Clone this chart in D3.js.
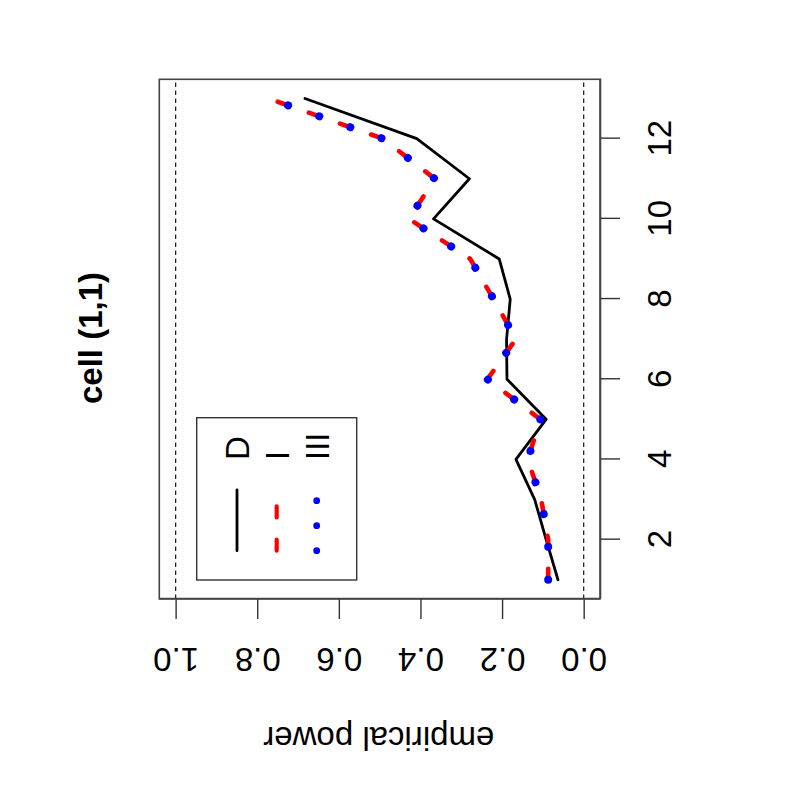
<!DOCTYPE html>
<html>
<head>
<meta charset="utf-8">
<script src="https://d3js.org/d3.v7.min.js"></script>
<style>
body { margin:0; background:white; }
svg text { font-family: "Liberation Sans", Arial, Helvetica, sans-serif; }
</style>
</head>
<body>
<svg id="graph1"></svg>
<script>

// data
var indexValues = [1,2,3,4,5,6,7,8,9,10,11,12,13];
var powerD   = [0.063,0.092,0.120,0.166,0.092,0.188,0.189,0.180,0.207,0.368,0.280,0.409,0.683];
var powerI   = [0.087,0.087,0.104,0.137,0.106,0.236,0.166,0.221,0.278,0.428,0.365,0.492,0.772];
var powerIII = [0.087,0.087,0.104,0.137,0.106,0.236,0.166,0.221,0.278,0.428,0.365,0.492,0.772];
var xTicks = [2,4,6,8,10,12];
var yTicks = [0,0.2,0.4,0.6,0.8,1];
var yTickLabels = ["0.0","0.2","0.4","0.6","0.8","1.0"];
var legendLabels = ["D","I","III"];
var refLines = [0,1];

// line styles (black solid, red dashed, blue dotted)
var lineStyles = [
    {color:"black", width:2.8, dash:null, legendDash:null},
    {color:"#ff0000", width:4.6, dash:"11,22", legendDash:"11,22.3", legendWidth:4.2},
    {color:"#0000ff", width:8, dash:"0.01,32.99", legendDash:"0.01,24.99", legendWidth:6.8}
]

var initGraph = function()
{
    var screen = {width:800, height:800}

    // plot drawn upright, then the whole thing is turned a quarter left
    var plot = {left:201, right:720.7, top:159.3, bottom:600}

    var svg = d3.select("#graph1")
        .attr("width", screen.width)
        .attr("height", screen.height)

    svg.append("rect")
        .attr("width", screen.width)
        .attr("height", screen.height)
        .attr("fill", "white")

    var target = svg.append("g")
        .attr("transform", "rotate(-90,400,400)")

    var xScale = d3.scaleLinear()
        .domain([1-0.48, 13+0.48])
        .range([plot.left, plot.right])

    var yScale = d3.scaleLinear()
        .domain([-0.04, 1.04])
        .range([plot.bottom, plot.top])

    drawRefLines(target, plot, yScale);
    drawSeries(target, xScale, yScale);
    drawAxis(target, plot, xScale, yScale);
    drawLegend(target);
    drawLabels(target, plot);
}

var drawRefLines = function(target, plot, yScale)
{
    target.selectAll(".ref")
        .data(refLines)
        .enter()
        .append("line")
        .attr("x1", plot.left)
        .attr("x2", plot.right)
        .attr("y1", function(d) { return yScale(d) })
        .attr("y2", function(d) { return yScale(d) })
        .attr("stroke", "#222")
        .attr("stroke-width", 1.3)
        .attr("stroke-dasharray", "4.5,3.5")
}

var drawSeries = function(target, xScale, yScale)
{
    var series = [powerD, powerI, powerIII]

    var line = d3.line()
        .x(function(d, i) { return xScale(indexValues[i]) })
        .y(function(d) { return yScale(d) })

    series.forEach(function(values, k)
    {
        var st = lineStyles[k]
        target.append("path")
            .datum(values)
            .attr("d", line)
            .attr("fill", "none")
            .attr("stroke", st.color)
            .attr("stroke-width", st.width)
            .attr("stroke-linecap", "round")
            .attr("stroke-linejoin", "round")
            .attr("stroke-dasharray", st.dash)
    })
}

var drawAxis = function(target, plot, xScale, yScale)
{
    var xAxis = d3.axisBottom(xScale)
        .tickValues(xTicks)
        .tickSize(20)
        .tickSizeOuter(0)
        .tickPadding(27.6)

    var yAxis = d3.axisLeft(yScale)
        .tickValues(yTicks)
        .tickFormat(function(d, i) { return yTickLabels[i] })
        .tickSize(20)
        .tickSizeOuter(0)

    var gx = target.append("g")
        .attr("transform", "translate(0," + plot.bottom + ")")
        .call(xAxis)

    var gy = target.append("g")
        .attr("transform", "translate(" + plot.left + ",0)")
        .call(yAxis)

    gy.selectAll("text")
        .attr("x", null)
        .attr("dy", null)
        .attr("text-anchor", "middle")
        .attr("transform", "translate(-49,0) rotate(-90)")

    ;[gx, gy].forEach(function(g)
    {
        g.attr("font-size", 33)
            .attr("font-family", "Liberation Sans, Arial, sans-serif")
        g.selectAll("text").attr("fill", "black")
        g.selectAll("line").attr("stroke", "#333").attr("stroke-width", 1.4)
        g.select(".domain").attr("stroke", "#444").attr("stroke-width", 1.6)
    })

    // plot box
    target.append("rect")
        .attr("x", plot.left)
        .attr("y", plot.top)
        .attr("width", plot.right - plot.left)
        .attr("height", plot.bottom - plot.top)
        .attr("fill", "none")
        .attr("stroke", "#444")
        .attr("stroke-width", 1.6)
}

var drawLegend = function(target)
{
    var box = {x:220, y:196.7, width:162.3, height:160}
    var rowY = [237, 276.7, 316.7]
    var seg = {x1:249.3, x2:310}

    var legend = target.append("g")

    legend.append("rect")
        .attr("x", box.x)
        .attr("y", box.y)
        .attr("width", box.width)
        .attr("height", box.height)
        .attr("fill", "white")
        .attr("stroke", "#333")
        .attr("stroke-width", 1.4)

    legendLabels.forEach(function(label, k)
    {
        var st = lineStyles[k]
        legend.append("line")
            .attr("x1", seg.x1)
            .attr("x2", seg.x2)
            .attr("y1", rowY[k])
            .attr("y2", rowY[k])
            .attr("stroke", st.color)
            .attr("stroke-width", st.legendWidth || st.width)
            .attr("stroke-linecap", "round")
            .attr("stroke-dasharray", st.legendDash)

        legend.append("text")
            .text(label)
            .attr("x", 340)
            .attr("y", rowY[k])
            .attr("dy", "0.36em")
            .attr("font-size", 33)
    })
}

var drawLabels = function(target, plot)
{
    var labels = target.append("g")

    labels.append("text")
        .text("cell (1,1)")
        .attr("text-anchor", "middle")
        .attr("x", 462)
        .attr("y", 102)
        .attr("font-size", 33)
        .attr("font-weight", "bold")

    labels.append("g")
        .attr("transform", "translate(73.3," + 378.8 + ")")
        .append("text")
        .text("empirical power")
        .attr("text-anchor", "middle")
        .attr("font-size", 33)
        .attr("transform", "rotate(-90)")
}

initGraph();

</script>
</body>
</html>
